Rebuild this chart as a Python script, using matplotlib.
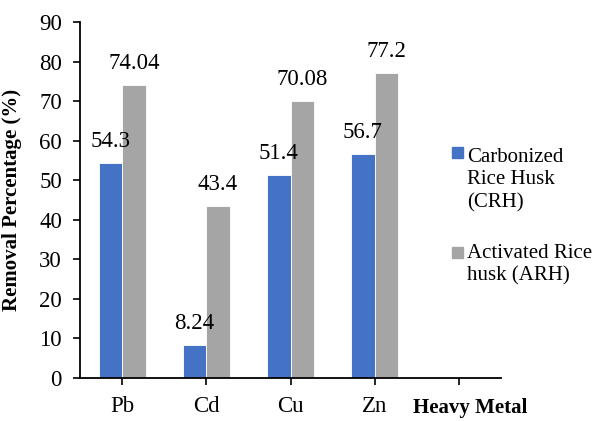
import numpy as np
import matplotlib
matplotlib.use("Agg")
import matplotlib.pyplot as plt
from matplotlib.patches import Rectangle

# data
metals = ["Pb", "Cd", "Cu", "Zn", ""]
crh = [54.3, 8.24, 51.4, 56.7]
arh = [74.04, 43.4, 70.08, 77.2]
crh_labels = ["54.3", "8.24", "51.4", "56.7"]
arh_labels = ["74.04", "43.4", "70.08", "77.2"]
series_names = ["Carbonized\nRice Husk\n(CRH)", "Activated Rice\nhusk (ARH)"]
colors = ["#4472C4", "#A5A5A5"]

plt.rcParams["font.family"] = ["Liberation Serif", "DejaVu Serif"]

fig = plt.figure(figsize=(5.93, 4.21), dpi=100)
ax = fig.add_axes([80/593, 1-378/421, 421/593, 356/421])

w = 0.279
x = np.arange(len(crh))
b1 = ax.bar(x - w/2, crh, w, color=colors[0], edgecolor="white", linewidth=0.6)
b2 = ax.bar(x + w/2, arh, w, color=colors[1], edgecolor="white", linewidth=0.6)

for bars, labs in [(b1, crh_labels), (b2, arh_labels)]:
    for b, t in zip(bars, labs):
        ax.annotate(t, (b.get_x() + b.get_width()/2, b.get_height()),
                    xytext=(0, 15.5), textcoords="offset points",
                    ha="center", va="center", fontsize=16.5)

ax.set_xlim(-0.5, len(metals) - 0.5)
ax.set_ylim(0, 90)
ax.set_yticks(range(0, 91, 10))
ax.set_xticks(range(len(metals)))
ax.set_xticklabels(metals)
ax.tick_params(axis="both", labelsize=16.5, direction="out", length=5, width=1.2, pad=8)
for s in ["top", "right"]:
    ax.spines[s].set_visible(False)
for s in ["left", "bottom"]:
    ax.spines[s].set_linewidth(1.3)

ax.set_ylabel("Removal Percentage (%)", fontsize=15, fontweight="bold")
ax.yaxis.set_label_coords(-58/421, 0.5)
fig.text(470/593, 1-408/421, "Heavy Metal", fontsize=15, fontweight="bold",
         ha="center", va="center")

# legend drawn by hand to keep the square beside the first line
leg_tops = [148, 244]
sq_tops = [147, 247]
for name, c, ty, sy in zip(series_names, colors, leg_tops, sq_tops):
    fig.patches.append(Rectangle((452/593, 1-(sy+11)/421), 11/593, 11/421,
                                 transform=fig.transFigure, color=c))
    fig.text(467/593, 1-ty/421, name, fontsize=15, ha="left", va="top",
             linespacing=1.25)

fig.savefig("out.png", dpi=100)
